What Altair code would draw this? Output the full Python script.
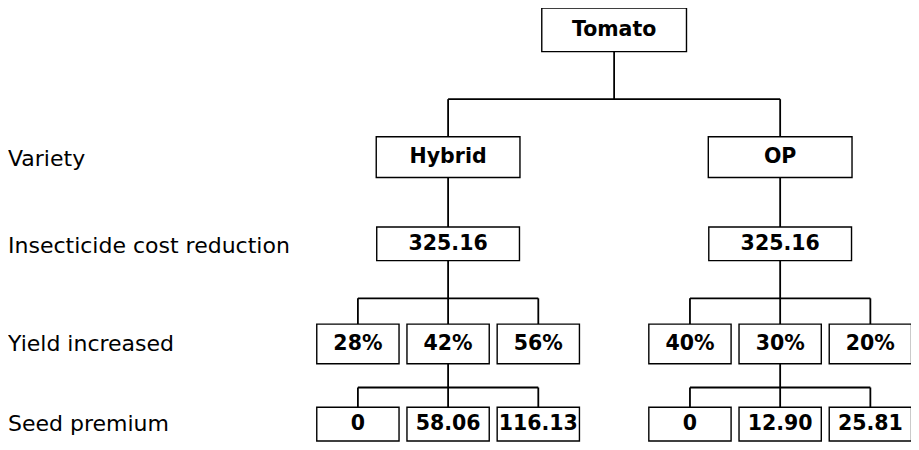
import altair as alt
import pandas as pd

# ---- chart content ----
root_label = "Tomato"
level_labels = ["Variety", "Insecticide cost reduction", "Yield increased", "Seed premium"]
variety_labels = ["Hybrid", "OP"]
insecticide_values = ["325.16", "325.16"]
yield_values_hybrid = ["28%", "42%", "56%"]
yield_values_op = ["40%", "30%", "20%"]
seed_values_hybrid = ["0", "58.06", "116.13"]
seed_values_op = ["0", "12.90", "25.81"]

# ---- layout (image pixel coordinates) ----
branch_x = [452, 787]
child_dx = 91
root_x = sum(branch_x) / 2
level_y = [30, 158.5, 246, 347, 428]          # root, variety, insecticide, yield, seed
box_w = [146, 145, 144, 83, 83]
box_h = [44, 41, 34, 40, 34]
label_y = [160, 248, 347, 428]
split_y = [100, 301, 391]                    # y of horizontal connectors

boxes = []
def add_box(label, cx, lvl):
    boxes.append(dict(label=label, cx=cx, cy=level_y[lvl],
                      x1=cx - box_w[lvl] / 2, x2=cx + box_w[lvl] / 2,
                      y1=level_y[lvl] - box_h[lvl] / 2, y2=level_y[lvl] + box_h[lvl] / 2))

add_box(root_label, root_x, 0)
yields = [yield_values_hybrid, yield_values_op]
seeds = [seed_values_hybrid, seed_values_op]
for b, bx in enumerate(branch_x):
    add_box(variety_labels[b], bx, 1)
    add_box(insecticide_values[b], bx, 2)
    for i, v in enumerate(yields[b]):
        add_box(v, bx + (i - 1) * child_dx, 3)
    for i, v in enumerate(seeds[b]):
        add_box(v, bx + (i - 1) * child_dx, 4)
boxes_df = pd.DataFrame(boxes)

def bottom(l):
    return level_y[l] + box_h[l] / 2
def top(l):
    return level_y[l] - box_h[l] / 2

segs = []
segs.append((root_x, bottom(0), root_x, split_y[0]))
segs.append((branch_x[0], split_y[0], branch_x[1], split_y[0]))
for bx in branch_x:
    segs.append((bx, split_y[0], bx, top(1)))
    segs.append((bx, bottom(1), bx, top(2)))
    segs.append((bx, bottom(2), bx, split_y[1]))
    segs.append((bx - child_dx, split_y[1], bx + child_dx, split_y[1]))
    for i in range(3):
        cx = bx + (i - 1) * child_dx
        segs.append((cx, split_y[1], cx, top(3)))
    segs.append((bx, bottom(3), bx, split_y[2]))
    segs.append((bx - child_dx, split_y[2], bx + child_dx, split_y[2]))
    for i in range(3):
        cx = bx + (i - 1) * child_dx
        segs.append((cx, split_y[2], cx, top(4)))
segs_df = pd.DataFrame(segs, columns=["x1", "y1", "x2", "y2"])

labels_df = pd.DataFrame(dict(label=level_labels, x=[8] * 4, y=label_y))

xs = alt.Scale(domain=[8, 919])
ys = alt.Scale(domain=[8, 446], reverse=True)
FONT = "DejaVu Sans"

rules = alt.Chart(segs_df).mark_rule(color="black", strokeWidth=1.8).encode(
    x=alt.X("x1:Q", scale=xs, axis=None), x2="x2:Q",
    y=alt.Y("y1:Q", scale=ys, axis=None), y2="y2:Q")

rects = alt.Chart(boxes_df).mark_rect(fill="white", stroke="black", strokeWidth=1.4).encode(
    x=alt.X("x1:Q", scale=xs, axis=None), x2="x2:Q",
    y=alt.Y("y1:Q", scale=ys, axis=None), y2="y2:Q")

box_text = alt.Chart(boxes_df).mark_text(font=FONT, fontSize=20.5, fontWeight="bold",
                                         color="black", align="center", baseline="middle").encode(
    x=alt.X("cx:Q", scale=xs, axis=None),
    y=alt.Y("cy:Q", scale=ys, axis=None),
    text="label:N")

left_text = alt.Chart(labels_df).mark_text(font=FONT, fontSize=22, color="black",
                                           align="left", baseline="middle").encode(
    x=alt.X("x:Q", scale=xs, axis=None),
    y=alt.Y("y:Q", scale=ys, axis=None),
    text="label:N")

chart = alt.layer(rules, rects, box_text, left_text).properties(
    width=903, height=434, padding=0, autosize="none"
).configure_view(stroke=None)

chart.save("out.html", embed_options={"renderer": "svg", "actions": False})
